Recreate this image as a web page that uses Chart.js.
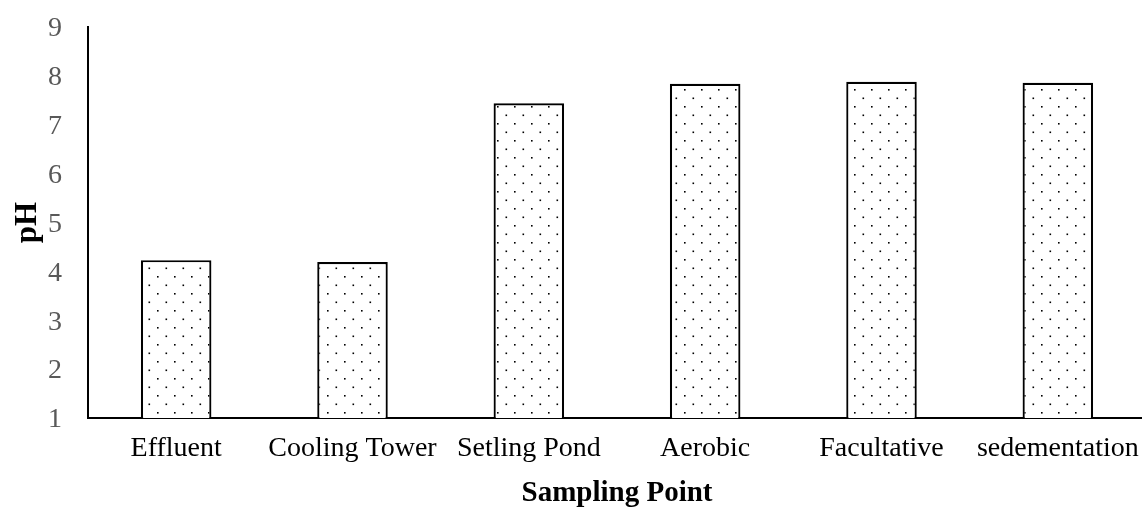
<!DOCTYPE html>
<html>
<head>
<meta charset="utf-8">
<script src="https://cdn.jsdelivr.net/npm/chart.js@4.4.1/dist/chart.umd.min.js"></script>
<style>
  html, body { margin: 0; padding: 0; background: #fff; overflow: hidden; }
  #wrap { width: 1147px; height: 510px; }
</style>
</head>
<body>
<div id="wrap"><canvas id="canvasGrafico" width="1147" height="510"></canvas></div>
<script>
const puntos = ['Effluent', 'Cooling Tower', 'Setling Pond', 'Aerobic', 'Facultative', 'sedementation'];
const valoresPH = [4.23, 4.19, 7.44, 7.84, 7.88, 7.86];
const ejeY = { min: 1, max: 9, paso: 1 };

function crearPatron() {
    const c = document.createElement('canvas');
    c.width = 17;
    c.height = 17;
    const g = c.getContext('2d');
    g.fillStyle = '#fff';
    g.fillRect(0, 0, 17, 17);
    g.fillStyle = '#000';
    g.fillRect(4, 4, 1.6, 1.6);
    g.fillRect(12.5, 12.5, 1.6, 1.6);
    return g.createPattern(c, 'repeat');
}

const fuente = '"Times New Roman", "Liberation Serif", serif';
const ctx = document.getElementById('canvasGrafico').getContext('2d');

new Chart(ctx, {
    type: 'bar',
    data: {
        labels: puntos,
        datasets: [{
            label: 'pH',
            data: valoresPH,
            backgroundColor: crearPatron(),
            borderColor: '#000',
            borderWidth: 2.2,
            borderSkipped: false,
            categoryPercentage: 1,
            barPercentage: 0.4
        }]
    },
    options: {
        responsive: false,
        animation: false,
        layout: { padding: { top: 27, right: 1, left: 9, bottom: 0 } },
        plugins: {
            legend: { display: false },
            tooltip: { enabled: false }
        },
        scales: {
            x: {
                grid: { display: false, drawTicks: false },
                border: { display: true, color: '#000', width: 2 },
                ticks: { color: '#000', font: { family: fuente, size: 28 }, padding: 14, maxRotation: 0, autoSkip: false },
                title: { display: true, text: 'Sampling Point', color: '#000', font: { family: fuente, size: 29, weight: 'bold' }, padding: { top: 0, bottom: -1 } },
                afterFit: function(scale) {
                    // alto fijo del eje y sin relleno lateral
                    scale.height = 92;
                    scale.paddingLeft = 0;
                    scale.paddingRight = 0;
                }
            },
            y: {
                min: ejeY.min,
                max: ejeY.max,
                grid: { display: false, drawTicks: false },
                border: { display: true, color: '#000', width: 2 },
                ticks: { stepSize: ejeY.paso, color: '#595959', font: { family: fuente, size: 28 }, padding: 26, labelOffset: 2 },
                title: { display: true, text: 'pH', color: '#000', font: { family: fuente, size: 31, weight: 'bold' }, padding: { top: 0, bottom: 3 } },
                afterFit: function(scale) {
                    scale.width = 79;
                    scale.paddingTop = 0;
                    scale.paddingBottom = 0;
                }
            }
        }
    }
});
</script>
</body>
</html>
